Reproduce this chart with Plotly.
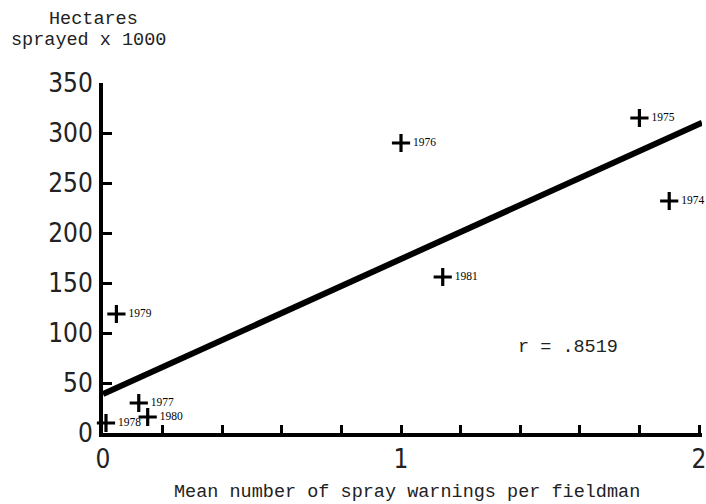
import plotly.graph_objects as go

# Data
years = ["1974", "1975", "1976", "1977", "1978", "1979", "1980", "1981"]
warnings_per_fieldman = [1.9, 1.8, 1.0, 0.12, 0.01, 0.045, 0.15, 1.14]
hectares_k = [232, 315, 290, 30, 10, 119, 16, 156]

fit_intercept = 39
fit_slope = 135
fit_x = [0, 2.01]
fit_y = [fit_intercept + fit_slope * v for v in fit_x]

y_ticks = [0, 50, 100, 150, 200, 250, 300, 350]
x_ticks = [0, 0.2, 0.4, 0.6, 0.8, 1.0, 1.2, 1.4, 1.6, 1.8, 2.0]
x_tick_text = ["0", "", "", "", "", "1", "", "", "", "", "2"]
r_text = "r = .8519"

mono = "Liberation Mono, DejaVu Sans Mono, monospace"
narrow = "Liberation Sans Narrow, DejaVu Sans Condensed, Roboto Condensed, Liberation Sans, sans-serif"

W, H = 706, 504
L, R, T, B = 103, 4, 83, 71
PW = W - L - R
PH = H - T - B


def px(xp):  # page x -> paper
    return (xp - L) / PW


def py(yp):  # page y -> paper
    return (H - B - yp) / PH


fig = go.Figure()
fig.add_trace(go.Scatter(
    x=fit_x, y=fit_y, mode="lines",
    line=dict(color="black", width=6), hoverinfo="skip", showlegend=False,
))
fig.add_trace(go.Scatter(
    x=warnings_per_fieldman, y=hectares_k, mode="markers+text",
    text=["\u00a0" + y for y in years], textposition="middle right",
    textfont=dict(family="Liberation Serif, serif", size=11.5, color="black"),
    marker=dict(symbol="cross-thin", size=13, line=dict(color="black", width=3.2)),
    showlegend=False, cliponaxis=False,
))

fig.update_layout(
    width=W, height=H,
    margin=dict(l=L, r=R, t=T, b=B, autoexpand=False),
    paper_bgcolor="white", plot_bgcolor="white",
    showlegend=False,
    xaxis=dict(
        range=[0, 2.01], tickvals=x_ticks, ticktext=x_tick_text,
        showgrid=False, zeroline=False, automargin=False,
        showline=True, linecolor="black", linewidth=4,
        ticks="inside", ticklen=8, tickwidth=3, tickcolor="black",
        tickfont=dict(family=narrow, size=26, color="#222"),
        ticklabeloverflow="allow",
    ),
    yaxis=dict(
        range=[0, 350], tickvals=y_ticks,
        showgrid=False, zeroline=False, automargin=False,
        showline=True, linecolor="black", linewidth=4,
        ticks="inside", ticklen=9, tickwidth=3, tickcolor="black",
        tickfont=dict(family=narrow, size=26, color="#222"),
        ticklabelstandoff=1, ticklabeloverflow="allow",
    ),
    annotations=[
        dict(text="Hectares", xref="paper", yref="paper",
             x=px(93), y=py(19), xanchor="center", yanchor="middle",
             showarrow=False, font=dict(family=mono, size=18.5, color="#222")),
        dict(text="sprayed x 1000", xref="paper", yref="paper",
             x=px(88), y=py(40), xanchor="center", yanchor="middle",
             showarrow=False, font=dict(family=mono, size=18.5, color="#222")),
        dict(text="Mean number of spray warnings per fieldman", xref="paper", yref="paper",
             x=px(407), y=py(492), xanchor="center", yanchor="middle",
             showarrow=False, font=dict(family=mono, size=18.5, color="#222")),
        dict(text=r_text, xref="x", yref="y", x=1.56, y=86,
             xanchor="center", yanchor="middle",
             showarrow=False, font=dict(family=mono, size=18.5, color="#222")),
    ],
)

# remove the default 8px page margin so the figure fills the window exactly
fig.write_html(
    "out.html",
    config={"displayModeBar": False},
    post_script="document.body.style.margin='0';document.body.style.overflow='hidden';",
)
